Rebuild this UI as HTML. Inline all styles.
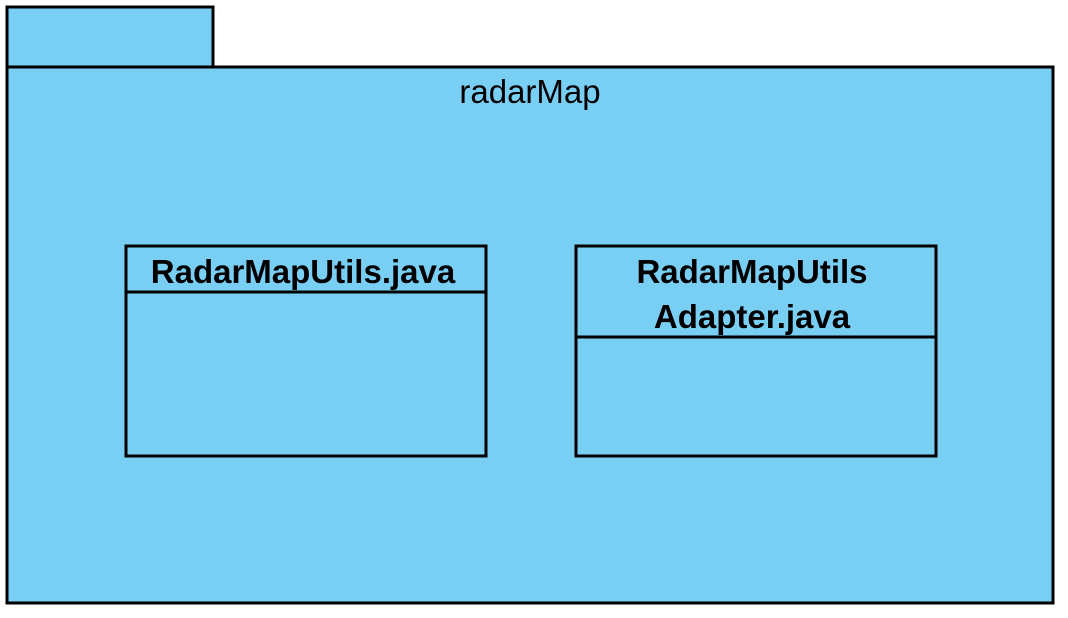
<!DOCTYPE html>
<html><head><meta charset="utf-8"><style>
html,body{margin:0;padding:0;background:#fff;width:1068px;height:618px;overflow:hidden}
svg{display:block}
text{font-family:"Liberation Sans",Arial,sans-serif}
</style></head><body>
<svg width="1068" height="618" xmlns="http://www.w3.org/2000/svg">
<rect x="7" y="7" width="206" height="60" fill="#79cef4" stroke="#000" stroke-width="3"/>
<rect x="7" y="67" width="1046" height="536" fill="#79cef4" stroke="#000" stroke-width="3"/>
<text x="530" y="103" font-size="33" text-anchor="middle">radarMap</text>
<rect x="126" y="246" width="360" height="210" fill="#79cef4" stroke="#000" stroke-width="3"/>
<line x1="126" y1="292" x2="486" y2="292" stroke="#000" stroke-width="3"/>
<text x="303" y="283" font-size="33" font-weight="bold" text-anchor="middle">RadarMapUtils.java</text>
<rect x="576" y="246" width="360" height="210" fill="#79cef4" stroke="#000" stroke-width="3"/>
<line x1="576" y1="337" x2="936" y2="337" stroke="#000" stroke-width="3"/>
<text x="752" y="283" font-size="33" font-weight="bold" text-anchor="middle">RadarMapUtils</text>
<text x="752" y="328" font-size="33" font-weight="bold" text-anchor="middle">Adapter.java</text>
</svg>
</body></html>
